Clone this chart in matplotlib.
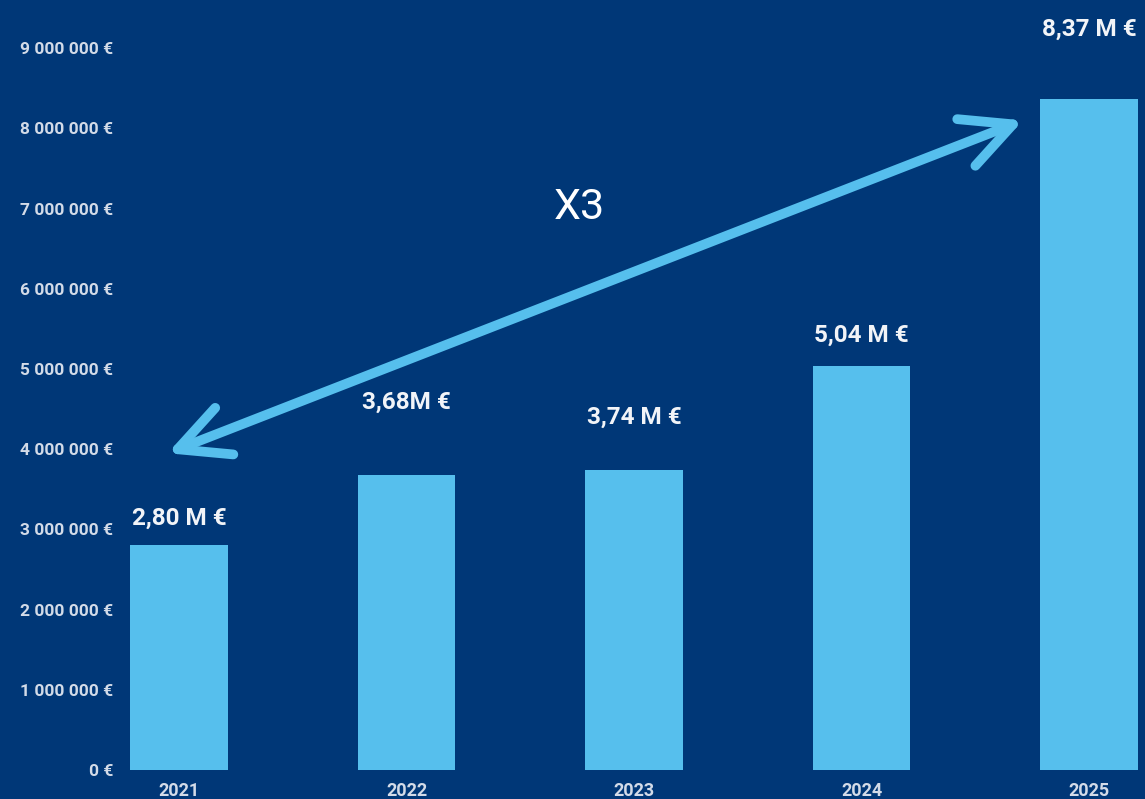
import matplotlib.pyplot as plt
from matplotlib.patches import FancyArrowPatch
from matplotlib.ticker import FuncFormatter

plt.rcParams['font.family'] = ['Roboto', 'DejaVu Sans']

years = ['2021', '2022', '2023', '2024', '2025']
revenue = [2.80e6, 3.68e6, 3.74e6, 5.04e6, 8.37e6]
value_labels = ['2,80 M €', '3,68M €', '3,74 M €', '5,04 M €', '8,37 M €']
y_ticks = [0, 1e6, 2e6, 3e6, 4e6, 5e6, 6e6, 7e6, 8e6, 9e6]

# label offsets above each bar, in points (layout only)
label_offsets = [11, 44, 30, 14, 42]

bg = '#003777'
bar_color = '#56BFED'
tick_color = '#D3DBE8'

fig = plt.figure(figsize=(11.45, 7.99), dpi=100)
fig.patch.set_facecolor(bg)
ax = fig.add_axes([120 / 1145, 29 / 799, 1 - 120 / 1145, 1 - 29 / 799])
ax.set_facecolor(bg)

x = range(len(years))
ax.bar(x, revenue, width=0.43, color=bar_color, zorder=2)

for i, (v, lab) in enumerate(zip(revenue, value_labels)):
    ax.annotate(lab, (i, v), xytext=(0, label_offsets[i]), textcoords='offset points',
                ha='center', va='bottom', fontsize=17.5, fontweight='bold', color='#F2F4F8')

# double headed arrow 2021 -> 2025
arrow = FancyArrowPatch((-0.05, 3.95e6), (3.71, 8.1e6),
                        arrowstyle='<->,head_length=1.8,head_width=0.9',
                        mutation_scale=20, color=bar_color, linewidth=7,
                        capstyle='round', joinstyle='round', shrinkA=0, shrinkB=0, zorder=3)
ax.add_patch(arrow)
ax.text(1.76, 7.01e6, 'X3', fontsize=31, color='white', ha='center', va='center')

ax.set_xlim(-0.259, 4.246)
ax.set_ylim(0, 770 / 80.2 * 1e6)
ax.set_xticks(list(x))
ax.set_xticklabels(years)
ax.set_yticks(y_ticks)
ax.yaxis.set_major_formatter(FuncFormatter(lambda v, p: f"{int(v):,} €".replace(',', ' ')))
ax.tick_params(axis='y', length=0, colors=tick_color, labelsize=12.5, pad=5)
ax.tick_params(axis='x', length=0, colors=tick_color, labelsize=13, pad=9)
for lab in ax.get_xticklabels() + ax.get_yticklabels():
    lab.set_fontweight('bold')
for s in ax.spines.values():
    s.set_visible(False)

fig.savefig('out.png', dpi=100, facecolor=bg)
